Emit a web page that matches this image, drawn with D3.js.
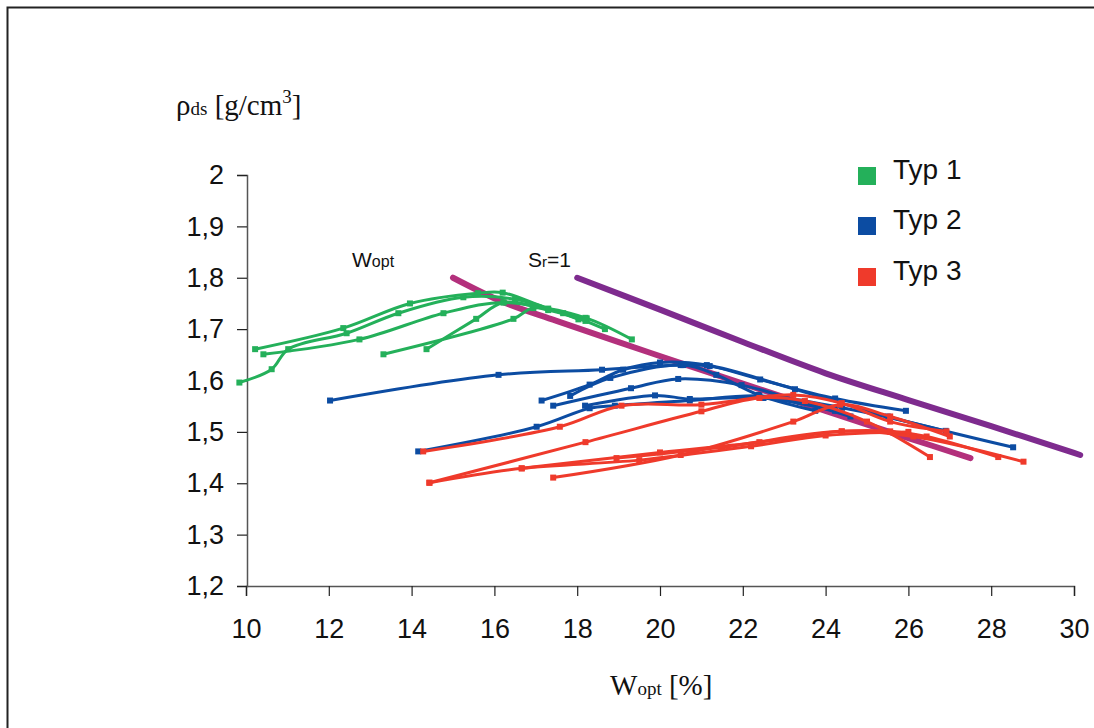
<!DOCTYPE html>
<html><head><meta charset="utf-8">
<script src="https://cdn.jsdelivr.net/npm/d3@7"></script>
<style>
body{margin:0;background:#fff;}
svg{display:block;}
</style></head>
<body>
<svg id="c" width="1094" height="728"></svg>
<script>
// ---- data ----
const xTicks = [10,12,14,16,18,20,22,24,26,28,30];
const xTickLabels = ["10","12","14","16","18","20","22","24","26","28","30"];
const yTicks = [1.2,1.3,1.4,1.5,1.6,1.7,1.8,1.9,2.0];
const yTickLabels = ["1,2","1,3","1,4","1,5","1,6","1,7","1,8","1,9","2"];
const legendLabels = ["Typ 1","Typ 2","Typ 3"];

// Typ 1 (green) compaction curves [w %, rho]
const typ1 = [
  [[10.22,1.661],[12.35,1.702],[13.96,1.750],[15.6,1.770],[16.2,1.771],[17.3,1.740],[18.23,1.721]],
  [[10.42,1.651],[12.74,1.680],[14.77,1.731],[16.22,1.752],[17.66,1.731],[18.67,1.700]],
  [[9.84,1.596],[10.62,1.622],[11.02,1.661],[12.43,1.692],[13.68,1.731],[15.25,1.762],[16.5,1.758],[18.03,1.719]],
  [[13.32,1.651],[16.46,1.720],[16.94,1.741],[18.2,1.722],[19.32,1.680]],
  [[14.36,1.661],[15.56,1.720],[16.22,1.752],[17.3,1.737],[18.2,1.716]]
];
// Typ 2 (blue)
const typ2 = [
  [[12.03,1.561],[16.1,1.611],[18.6,1.621],[20.5,1.630],[21.2,1.628],[22.42,1.602],[24.23,1.565],[25.94,1.541]],
  [[17.14,1.561],[18.3,1.592],[19.11,1.621],[20.0,1.635],[21.13,1.630],[23.26,1.583],[25.5,1.530],[28.53,1.470]],
  [[17.42,1.551],[19.3,1.585],[20.44,1.603],[21.97,1.591],[23.38,1.559],[24.6,1.530]],
  [[17.83,1.570],[18.8,1.605],[20.56,1.630],[21.36,1.611],[22.38,1.572],[23.75,1.541]],
  [[14.16,1.462],[17.02,1.510],[18.3,1.546],[18.91,1.551],[20.72,1.561],[22.4,1.570],[24.4,1.547],[26.9,1.502]],
  [[18.19,1.551],[19.88,1.571],[20.72,1.564],[22.5,1.566],[24.23,1.541]]
];
// Typ 3 (red)
const typ3 = [
  [[14.28,1.462],[17.58,1.510],[19.07,1.551],[21.0,1.553],[23.22,1.572],[24.39,1.556],[25.56,1.520],[26.92,1.501]],
  [[14.43,1.401],[18.2,1.480],[21.0,1.540],[22.4,1.566],[23.5,1.560],[25.0,1.520],[26.52,1.451]],
  [[16.66,1.429],[20.0,1.460],[22.4,1.480],[24.39,1.501],[25.56,1.501],[26.44,1.491],[28.17,1.451]],
  [[17.42,1.411],[20.5,1.455],[23.22,1.520],[24.35,1.553],[25.56,1.530],[27.0,1.491]],
  [[18.95,1.449],[21.5,1.470],[24.39,1.501],[26.12,1.491],[28.78,1.442]],
  [[14.43,1.401],[16.66,1.429],[19.5,1.445],[22.2,1.472],[24.0,1.493],[26.0,1.500]]
];
// Reference lines
const wOptLine = [[15.0,1.800],[16.2,1.753],[17.5,1.716],[19.76,1.654],[22.0,1.594],[24.0,1.541],[26.0,1.488],[27.5,1.449]];
const srLine = [[18.0,1.800],[20.0,1.738],[22.0,1.675],[24.0,1.614],[26.0,1.562],[28.0,1.511],[30.0,1.459],[30.15,1.455]];

// ---- chart ----
const colors = ["#24B05A","#0C4CA2","#EF3A2B"];
const svg = d3.select("#c");
svg.append("rect").attr("x",7.5).attr("y",7.5).attr("width",1100).attr("height",740)
  .attr("fill","#fff").attr("stroke","#222").attr("stroke-width",2);

const x = d3.scaleLinear().domain([10,30]).range([246,1074]);
const y = d3.scaleLinear().domain([1.2,2.0]).range([586,175]);

const line = d3.line().x(d=>x(d[0])).y(d=>y(d[1])).curve(d3.curveCatmullRom.alpha(0.5));

// axes
const xa = svg.append("g").attr("transform","translate(0,586)")
  .call(d3.axisBottom(x).tickValues(xTicks).tickFormat((d,i)=>xTickLabels[i]).tickSizeOuter(0).tickSize(10).tickPadding(23));
const ya = svg.append("g").attr("transform","translate(247,0)")
  .call(d3.axisLeft(y).tickValues(yTicks).tickFormat((d,i)=>yTickLabels[i]).tickSizeOuter(0).tickSize(10).tickPadding(13));
[xa,ya].forEach(g=>{
  g.select(".domain").attr("stroke","#555").attr("stroke-width",1.5);
  g.selectAll(".tick line").attr("stroke","#222").attr("stroke-width",1.2);
  g.selectAll(".tick text").attr("font-family","Liberation Sans, Arial, sans-serif").attr("font-size",27).attr("fill","#111");
});

// reference lines
svg.append("path").datum(wOptLine).attr("d",line).attr("fill","none")
  .attr("stroke","#B3307C").attr("stroke-width",6).attr("stroke-linecap","round");
svg.append("path").datum(srLine).attr("d",line).attr("fill","none")
  .attr("stroke","#7E2B8E").attr("stroke-width",6).attr("stroke-linecap","round");

// series
[typ1,typ2,typ3].forEach((series,si)=>{
  const g = svg.append("g");
  series.forEach(curve=>{
    g.append("path").datum(curve).attr("d",line).attr("fill","none")
      .attr("stroke",colors[si]).attr("stroke-width",3);
    g.selectAll(null).data(curve).enter().append("rect")
      .attr("x",d=>x(d[0])-3).attr("y",d=>y(d[1])-3).attr("width",6).attr("height",6)
      .attr("fill",colors[si]);
  });
});

// legend
legendLabels.forEach((t,i)=>{
  const yy = [176,226,277][i];
  svg.append("rect").attr("x",858).attr("y",yy-9).attr("width",18).attr("height",18).attr("fill",colors[i]);
  svg.append("text").attr("x",893).attr("y",yy+3).attr("font-family","Liberation Sans, Arial, sans-serif")
    .attr("font-size",28).attr("fill","#111").text(t);
});

// annotations
const ann = svg.append("text").attr("x",352).attr("y",267).attr("font-family","Liberation Sans, Arial, sans-serif").attr("font-size",21).attr("fill","#111");
ann.append("tspan").text("W");
ann.append("tspan").attr("font-size",16).text("opt");
const ann2 = svg.append("text").attr("x",528).attr("y",267).attr("font-family","Liberation Sans, Arial, sans-serif").attr("font-size",21).attr("fill","#111");
ann2.append("tspan").text("S");
ann2.append("tspan").attr("font-size",15).text("r");
ann2.append("tspan").text("=1");

// axis titles
const yt = svg.append("text").attr("x",176).attr("y",115).attr("font-family","Liberation Serif, Times New Roman, serif").attr("font-size",29).attr("fill","#111");
yt.append("tspan").text("ρ");
yt.append("tspan").attr("font-size",19).text("ds");
yt.append("tspan").text(" [g/cm");
yt.append("tspan").attr("font-size",19).attr("dy",-12).text("3");
yt.append("tspan").attr("dy",12).text("]");

const xt = svg.append("text").attr("x",610).attr("y",695).attr("font-family","Liberation Serif, Times New Roman, serif").attr("font-size",29).attr("fill","#111");
xt.append("tspan").text("W");
xt.append("tspan").attr("font-size",19).text("opt");
xt.append("tspan").text(" [%]");
</script>
</body></html>
